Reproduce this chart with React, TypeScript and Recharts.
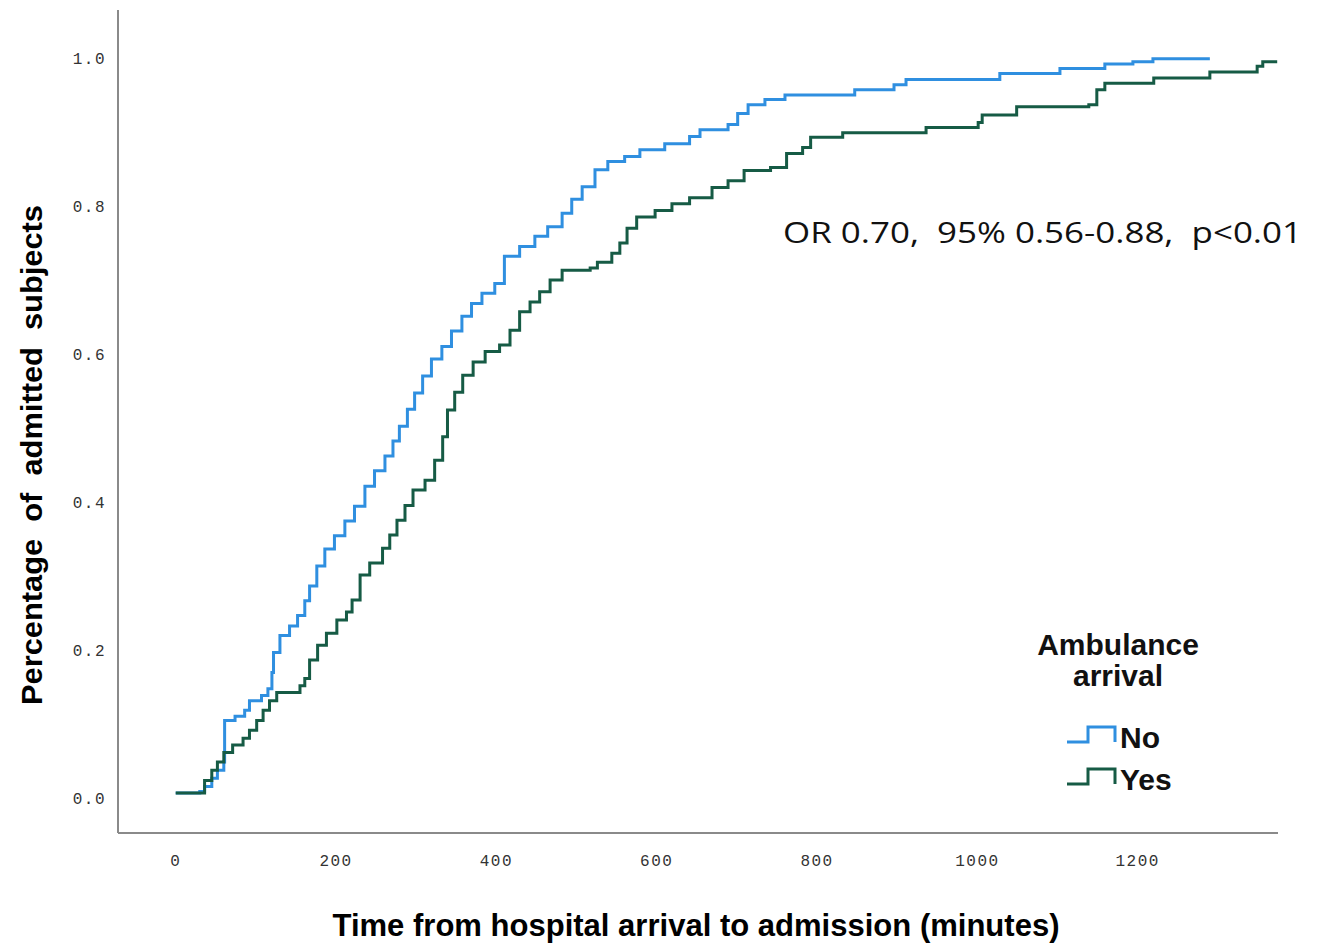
import { LineChart, Line, XAxis, YAxis, Label } from "recharts";

// cumulative proportion admitted (step curves)
const noTimes = [
  0, 30, 36, 45, 52, 60, 61, 74, 86, 92, 107, 115, 120, 122, 130, 142, 152,
  161, 167, 176, 186, 198, 211, 223, 236, 248, 261, 271, 279, 289, 298, 308,
  319, 332, 344, 357, 369, 382, 398, 410, 429, 448, 464, 482, 494, 507, 523,
  539, 560, 579, 610, 641, 654, 689, 701, 714, 735, 760, 847, 896, 911, 1028,
  1103, 1159, 1194, 1219, 1290,
];
const noProps = [
  0.007, 0.009, 0.016, 0.027, 0.038, 0.049, 0.105, 0.111, 0.119, 0.132, 0.139,
  0.148, 0.17, 0.197, 0.22, 0.233, 0.247, 0.267, 0.287, 0.314, 0.337, 0.355,
  0.375, 0.395, 0.422, 0.443, 0.463, 0.483, 0.503, 0.526, 0.548, 0.571, 0.594,
  0.611, 0.632, 0.652, 0.669, 0.683, 0.696, 0.733, 0.746, 0.76, 0.773, 0.791,
  0.81, 0.827, 0.85, 0.861, 0.868, 0.877, 0.885, 0.895, 0.904, 0.911, 0.926,
  0.938, 0.945, 0.951, 0.958, 0.965, 0.972, 0.98, 0.987, 0.993, 0.996, 1.0, 1.0,
];

const yesTimes = [
  0, 30, 36, 45, 52, 60, 71, 84, 92, 101, 109, 117, 126, 155, 161, 167, 177,
  188, 201, 213, 220, 230, 242, 258, 267, 276, 286, 296, 311, 323, 333, 339,
  348, 358, 371, 386, 404, 417, 429, 442, 454, 467, 482, 517, 526, 544, 554,
  563, 575, 598, 619, 641, 669, 689, 709, 742, 762, 782, 792, 832, 936, 1001,
  1006, 1049, 1139, 1149, 1159, 1220, 1290, 1349, 1356, 1374,
];
const yesProps = [
  0.007, 0.007, 0.024, 0.038, 0.049, 0.062, 0.072, 0.081, 0.092, 0.105, 0.119,
  0.132, 0.143, 0.152, 0.162, 0.187, 0.207, 0.223, 0.241, 0.252, 0.268, 0.302,
  0.318, 0.338, 0.356, 0.376, 0.396, 0.417, 0.43, 0.457, 0.489, 0.525, 0.549,
  0.572, 0.59, 0.604, 0.613, 0.633, 0.658, 0.671, 0.685, 0.701, 0.714, 0.717,
  0.725, 0.737, 0.751, 0.771, 0.786, 0.795, 0.804, 0.812, 0.826, 0.835, 0.849,
  0.853, 0.872, 0.88, 0.894, 0.9, 0.907, 0.914, 0.924, 0.935, 0.938, 0.958,
  0.967, 0.974, 0.982, 0.99, 0.996, 0.996,
];

const xTicks = [0, 200, 400, 600, 800, 1000, 1200];
const yTicks = [0, 0.2, 0.4, 0.6, 0.8, 1.0];

const legendTitle = ["Ambulance", "arrival"];
const groupNames = ["No", "Yes"];
const groupColors = ["#2f8fe0", "#165b45"];
const annotation = "OR 0.70,  95% 0.56-0.88,  p<0.01";

const noSeries = noTimes.map((t, i) => ({ t, v: noProps[i] }));
const yesSeries = yesTimes.map((t, i) => ({ t, v: yesProps[i] }));

const tickStyle = {
  fontFamily: "'Liberation Mono', monospace",
  fontSize: 16,
  letterSpacing: 1.5,
  fill: "#333",
};

const XTitle = () => (
  <text
    x={696}
    y={936}
    textAnchor="middle"
    fontFamily="'Liberation Sans', Arial, sans-serif"
    fontWeight="bold"
    fontSize={32}
    textLength={727}
    lengthAdjust="spacingAndGlyphs"
    fill="#000"
  >
    Time from hospital arrival to admission (minutes)
  </text>
);

const YTitle = () => (
  <text
    transform="translate(42,455) rotate(-90)"
    textAnchor="middle"
    fontFamily="'Liberation Sans', Arial, sans-serif"
    fontWeight="bold"
    fontSize={30}
    textLength={500}
    lengthAdjust="spacingAndGlyphs"
    fill="#000"
    style={{ whiteSpace: "pre" }}
  >
    Percentage  of  admitted  subjects
  </text>
);

const StepIcon = ({ y, color }: { y: number; color: string }) => (
  <polyline
    points={`1067,${y} 1088,${y} 1088,${y - 15} 1115,${y - 15} 1115,${y}`}
    fill="none"
    stroke={color}
    strokeWidth={3}
  />
);

export default function App() {
  return (
    <div style={{ position: "absolute", left: 0, top: 0, width: 1317, height: 944, background: "#fff" }}>
      <LineChart
        width={1317}
        height={944}
        margin={{ top: 10, right: 39, bottom: 0, left: 0 }}
      >
        <XAxis
          type="number"
          dataKey="t"
          domain={[-72, 1375]}
          ticks={xTicks}
          allowDataOverflow
          height={111}
          tickLine={false}
          tickSize={6}
          tickMargin={16}
          axisLine={{ stroke: "#8a8a8a", strokeWidth: 2 }}
          tick={tickStyle}
        >
          <Label content={XTitle} />
        </XAxis>
        <YAxis
          type="number"
          domain={[-0.047, 1.066]}
          ticks={yTicks}
          allowDataOverflow
          width={118}
          tickLine={false}
          tickSize={6}
          tickMargin={6}
          tickFormatter={(v: number) => v.toFixed(1)}
          axisLine={{ stroke: "#8a8a8a", strokeWidth: 2 }}
          tick={tickStyle}
        >
          <Label content={YTitle} />
        </YAxis>
        <Line
          data={noSeries}
          dataKey="v"
          name={groupNames[0]}
          type="stepAfter"
          stroke={groupColors[0]}
          strokeWidth={3}
          dot={false}
          isAnimationActive={false}
        />
        <Line
          data={yesSeries}
          dataKey="v"
          name={groupNames[1]}
          type="stepAfter"
          stroke={groupColors[1]}
          strokeWidth={3}
          dot={false}
          isAnimationActive={false}
        />
      </LineChart>
      <svg
        width={1317}
        height={944}
        style={{ position: "absolute", left: 0, top: 0, pointerEvents: "none" }}
      >
        <text
          x={783}
          y={243}
          fontFamily="'Open Sans', 'Noto Sans', sans-serif"
          fontSize={30}
          textLength={519}
          lengthAdjust="spacingAndGlyphs"
          fill="#111"
          style={{ whiteSpace: "pre" }}
        >
          {annotation}
        </text>
        <g fontFamily="'Liberation Sans', Arial, sans-serif" fontWeight="bold" fill="#111">
          <text x={1118} y={655} textAnchor="middle" fontSize={30}>
            {legendTitle[0]}
          </text>
          <text x={1118} y={686} textAnchor="middle" fontSize={30}>
            {legendTitle[1]}
          </text>
          <StepIcon y={742} color={groupColors[0]} />
          <text x={1120} y={748} fontSize={30}>
            {groupNames[0]}
          </text>
          <StepIcon y={784} color={groupColors[1]} />
          <text x={1120} y={790} fontSize={30}>
            {groupNames[1]}
          </text>
        </g>
      </svg>
    </div>
  );
}
